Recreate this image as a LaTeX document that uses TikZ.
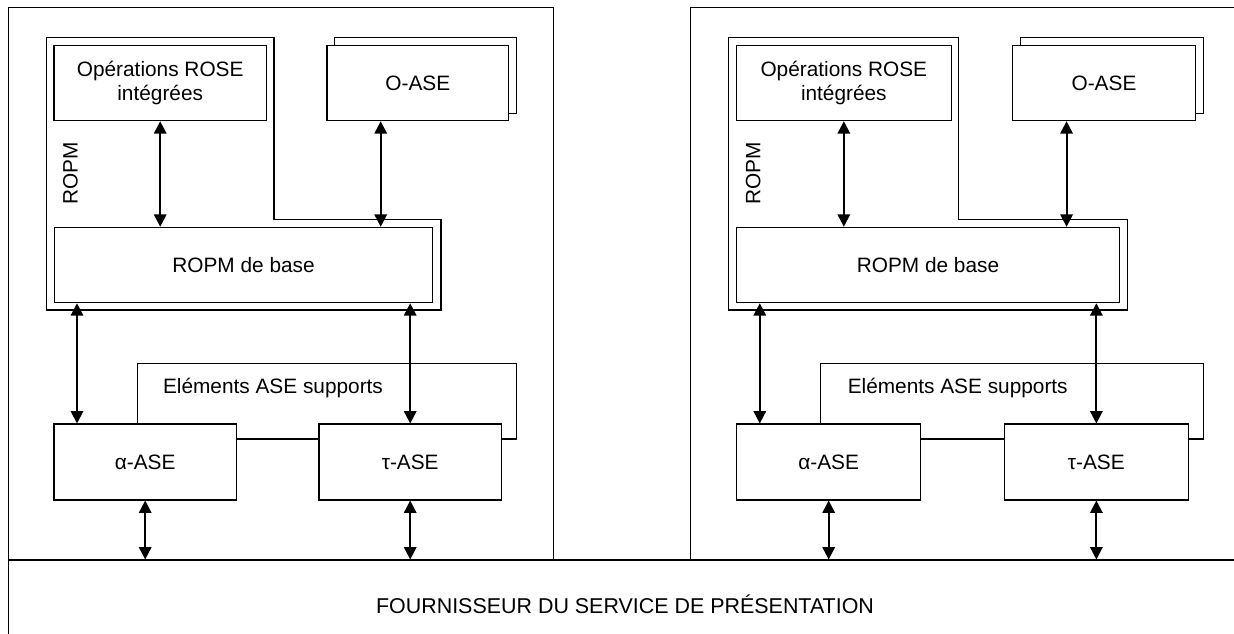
\documentclass[tikz,border=0pt]{standalone}
\usepackage{fontspec}
\setmainfont{Liberation Sans}
\usetikzlibrary{arrows.meta}

\begin{document}
\begin{tikzpicture}[x=0.02cm,y=-0.02cm,
    every node/.style={font=\fontsize{11.85}{14.2}\selectfont},
    box/.style={draw,fill=white,line width=0.6pt,inner sep=0pt},
    link/.style={line width=1.15pt,{Triangle[length=7pt,width=7pt]}-{Triangle[length=7pt,width=7pt]}}]
  \useasboundingbox (0,0) rectangle (1234,633);
  % presentation service provider, cut by the page edge
  \node[box,fill=none,minimum width=24.656cm,minimum height=1.76cm,font=\fontsize{12.2}{14.2}\selectfont] (band) at (625,604) {FOURNISSEUR DU SERVICE DE PRÉSENTATION};
  \foreach \side/\dx/\sx in {L/8.6/1,R/690.7/1.01}{
   \begin{scope}[shift={(\dx,0)},xscale=\sx]
    \draw[line width=0.6pt] (0,7.3) rectangle (545,560);
    % ROPM outline
    \draw[line width=0.6pt] (37.8,37.7) -- (265.4,37.7) -- (265.4,219.7) -- (432.4,219.7) -- (432.4,310) -- (37.8,310) -- cycle;
    \node[rotate=90] (ropm\side) at (61.8,173) {ROPM};
    \node[box,align=center,minimum width=\sx*4.248cm,minimum height=1.508cm] (ops\side) at (151.6,83) {Opérations ROSE\\intégrées};
    \node[box,minimum width=\sx*3.632cm,minimum height=1.508cm] (shadow\side) at (417,75.4) {};
    \node[box,minimum width=\sx*3.632cm,minimum height=1.508cm] (oase\side) at (409.2,83) {O-ASE};
    \node[box,minimum width=\sx*7.58cm,minimum height=1.508cm] (base\side) at (234.9,265) {ROPM de base};
    % supporting ASEs
    \node[box,minimum width=\sx*7.578cm,minimum height=1.514cm] (supp\side) at (318.35,401.15) {};
    \node (supptxt\side) at (264.4,388) {Eléments ASE supports};
    \node[box,minimum width=\sx*3.648cm,minimum height=1.52cm] (alpha\side) at (136.6,462) {α-ASE};
    \node[box,minimum width=\sx*3.648cm,minimum height=1.52cm] (tau\side) at (401.6,462) {τ-ASE};
    \coordinate (xa\side) at (372.1,0);
    \coordinate (xb\side) at (68.4,0);
    \draw[link] (ops\side.south) -- (ops\side.south |- base\side.north);
    \draw[link] (xa\side |- oase\side.south) -- (xa\side |- base\side.north);
    \draw[link] (xb\side |- base\side.south) -- (xb\side |- alpha\side.north);
    \draw[link] (tau\side.north |- base\side.south) -- (tau\side.north);
    \draw[link] (alpha\side.south) -- (alpha\side.south |- band.north);
    \draw[link] (tau\side.south) -- (tau\side.south |- band.north);
   \end{scope}
  }
\end{tikzpicture}
\end{document}
